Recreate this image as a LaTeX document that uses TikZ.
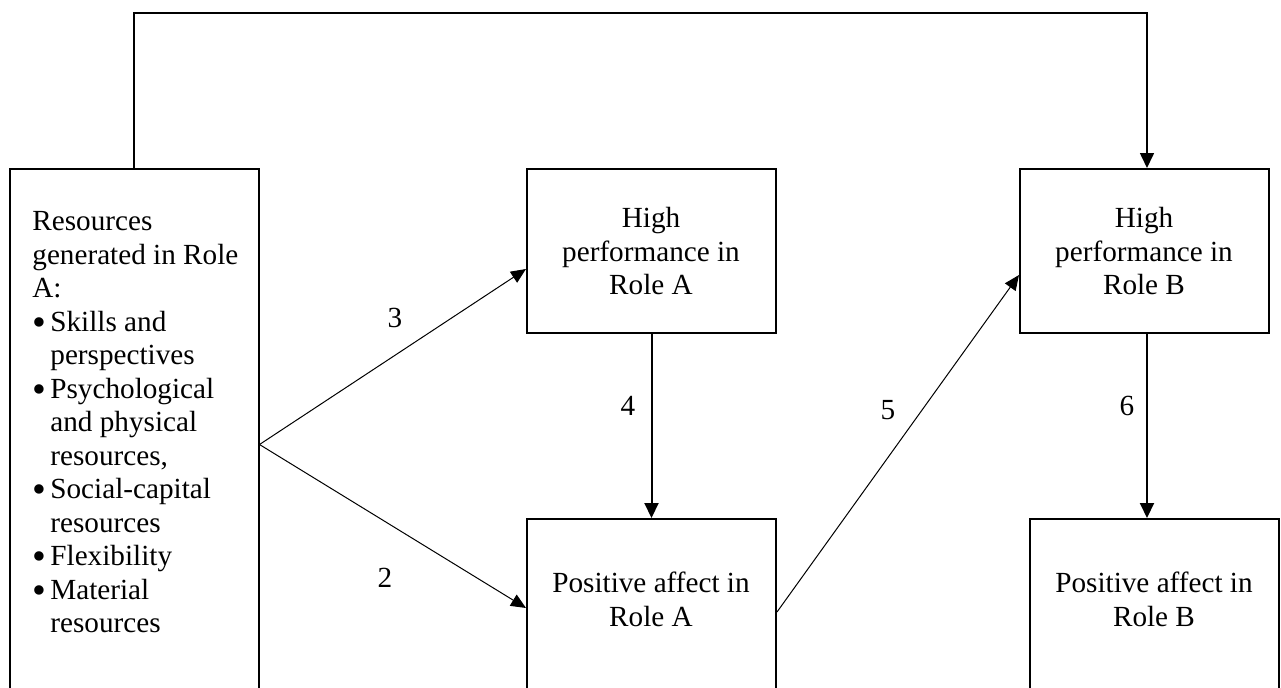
\documentclass[tikz,border=0pt]{standalone}
\usepackage{fontspec}
\setmainfont{Liberation Serif}
\usetikzlibrary{arrows.meta}
\tikzset{
	box/.style={draw,line width=1pt,minimum width=124.5pt,inner sep=0pt},
	txt/.style={anchor=north,align=center,inner sep=0pt,font=\fontsize{14.6}{16.75}\selectfont},
	lbl/.style={inner sep=0pt,font=\fontsize{14.6}{16.75}\selectfont},
	arr/.style={line width=1pt,-{Triangle[length=7.5pt,width=7pt]}},
	thinarr/.style={line width=0.5pt,-{Triangle[length=7.5pt,width=6.5pt]}}
}
\newcommand{\itembul}{\makebox[9pt][l]{\raisebox{-2pt}{\scalebox{1.35}{\textbullet}}}}
\newcommand{\itemgap}{\hspace*{9pt}}
\begin{document}
\begin{tikzpicture}[x=0.5pt,y=-0.5pt]
			\clip (0,0) rectangle (1281,687);
			\node[box,minimum height=275.5pt] (res) at (134,444.5) {};
			\node[box,minimum height=82pt] (hpa) at (651.5,251) {};
			\node[box,minimum height=100.5pt] (paa) at (651.5,619.5) {};
			\node[box,minimum height=82pt] (hpb) at (1144.5,251) {};
			\node[box,minimum height=100.5pt] (pab) at (1154,619.5) {};
			\node[txt,align=left,anchor=north west] (restxt) at (32,211) {Resources\\generated in Role\\A:\\\itembul Skills and\\\itemgap perspectives\\\itembul Psychological\\\itemgap and physical\\\itemgap resources,\\\itembul Social-capital\\\itemgap resources\\\itembul Flexibility\\\itembul Material\\\itemgap resources};
			\node[txt] (hpatxt) at (651,207) {High\\performance in\\Role A};
			\node[txt] (paatxt) at (651,572) {Positive affect in\\Role A};
			\node[txt] (hpbtxt) at (1144,207) {High\\performance in\\Role B};
			\node[txt] (pabtxt) at (1154,572) {Positive affect in\\Role B};
			\node[lbl] (n3) at (395,318) {3};
			\node[lbl] (n2) at (385,578) {2};
			\node[lbl] (n4) at (628,406) {4};
			\node[lbl] (n5) at (888,410) {5};
			\node[lbl] (n6) at (1127,406) {6};
			\draw[arr,line width=0.8pt] (res.north) -- ++(0,-155) -| ([xshift=1.25pt]hpb.north);
			\draw[thinarr] (res.east) -- ([yshift=-9pt]hpa.west);
			\draw[thinarr] (res.east) -- ([yshift=5.75pt]paa.west);
			\draw[arr] (hpa.south) -- (paa.north);
			\draw[thinarr] ([yshift=3.75pt]paa.east) -- ([yshift=-12pt]hpb.west);
			\draw[arr] ([xshift=1.25pt]hpb.south) -- ([xshift=1.25pt]hpb.south |- pab.north);
	\end{tikzpicture}
\end{document}
